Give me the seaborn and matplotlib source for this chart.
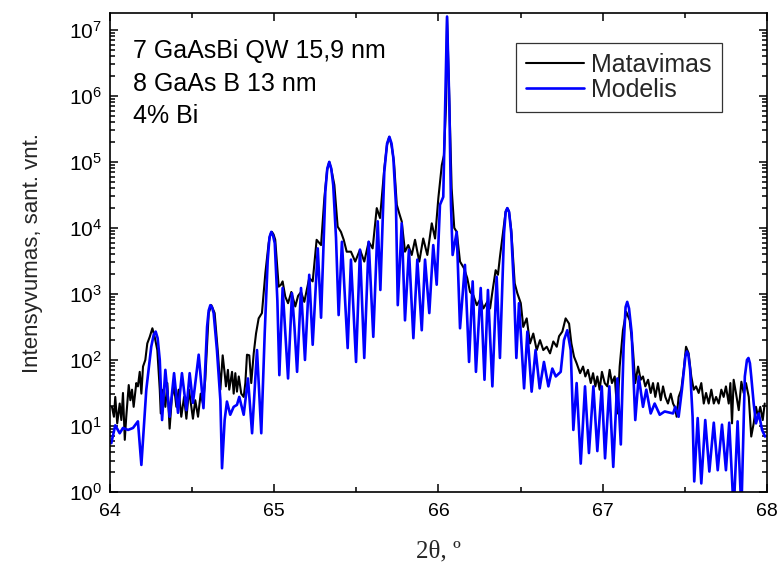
import matplotlib
matplotlib.use("Agg")
import matplotlib.pyplot as plt
import matplotlib.ticker as mticker
import numpy as np
import pandas as pd
import seaborn as sns

# ---- data (2theta in degrees, log10 of intensity) ----
meas_2theta = [
    64.012, 64.024, 64.032, 64.044, 64.059, 64.069, 64.079, 64.090, 64.099, 64.114,
    64.124, 64.134, 64.144, 64.160, 64.170, 64.181, 64.191, 64.201, 64.215, 64.227,
    64.242, 64.258, 64.272, 64.288, 64.303, 64.309, 64.323, 64.337, 64.349, 64.363,
    64.377, 64.390, 64.404, 64.418, 64.434, 64.451, 64.465, 64.481, 64.495, 64.505,
    64.519, 64.536, 64.552, 64.566, 64.580, 64.601, 64.617, 64.637, 64.658, 64.672,
    64.686, 64.698, 64.706, 64.718, 64.726, 64.743, 64.753, 64.763, 64.773, 64.784,
    64.799, 64.814, 64.824, 64.834, 64.848, 64.860, 64.875, 64.889, 64.905, 64.925,
    64.946, 64.966, 64.976, 64.986, 64.996, 65.006, 65.027, 65.041, 65.051, 65.067,
    65.084, 65.104, 65.128, 65.145, 65.163, 65.183, 65.213, 65.234, 65.258, 65.285,
    65.305, 65.322, 65.335, 65.348, 65.366, 65.386, 65.406, 65.423, 65.441, 65.467,
    65.493, 65.522, 65.548, 65.575, 65.599, 65.624, 65.644, 65.670, 65.686, 65.700,
    65.714, 65.729, 65.746, 65.761, 65.776, 65.796, 65.816, 65.837, 65.857, 65.883,
    65.907, 65.932, 65.959, 65.979, 65.999, 66.020, 66.033, 66.046, 66.052, 66.064,
    66.080, 66.096, 66.111, 66.131, 66.155, 66.175, 66.192, 66.212, 66.233, 66.257,
    66.273, 66.297, 66.314, 66.328, 66.348, 66.362, 66.374, 66.395, 66.409, 66.419,
    66.429, 66.443, 66.464, 66.480, 66.501, 66.516, 66.537, 66.557, 66.577, 66.598,
    66.618, 66.638, 66.659, 66.679, 66.699, 66.720, 66.734, 66.754, 66.774, 66.795,
    66.809, 66.825, 66.841, 66.862, 66.880, 66.894, 66.910, 66.927, 66.941, 66.955,
    66.967, 66.981, 66.995, 67.012, 67.028, 67.042, 67.056, 67.073, 67.089, 67.103,
    67.123, 67.143, 67.164, 67.184, 67.198, 67.215, 67.231, 67.245, 67.259, 67.276,
    67.292, 67.306, 67.320, 67.336, 67.353, 67.367, 67.381, 67.397, 67.414, 67.428,
    67.438, 67.450, 67.462, 67.478, 67.493, 67.507, 67.523, 67.539, 67.554, 67.568,
    67.584, 67.600, 67.615, 67.629, 67.645, 67.661, 67.676, 67.690, 67.706, 67.722,
    67.736, 67.750, 67.767, 67.777, 67.787, 67.797, 67.811, 67.828, 67.844, 67.858,
    67.872, 67.889, 67.904, 67.919, 67.933, 67.945, 67.959, 67.974, 67.986,
]
meas_log10 = [
    1.29, 1.14, 1.44, 1.04, 1.34, 1.09, 1.50, 0.79, 1.14, 1.62,
    1.39, 1.55, 1.29, 1.65, 1.60, 1.82, 1.49, 1.90, 2.00, 2.25,
    2.35, 2.48, 2.35, 2.15, 1.55, 1.19, 1.55, 1.29, 1.65, 0.96,
    1.44, 1.60, 1.29, 1.55, 1.14, 1.44, 1.11, 1.55, 1.29, 1.11,
    1.39, 1.14, 1.49, 1.34, 1.70, 2.71, 2.83, 2.71, 2.08, 1.55,
    2.07, 1.80, 1.60, 1.85, 1.55, 1.82, 1.49, 1.80, 1.52, 1.75,
    1.49, 1.44, 1.65, 2.08, 2.07, 1.65, 2.10, 2.40, 2.63, 2.71,
    3.32, 3.77, 3.90, 3.94, 3.90, 3.82, 3.11, 3.14, 3.19, 2.96,
    2.86, 3.03, 2.81, 2.97, 3.03, 2.88, 3.24, 3.19, 3.82, 3.74,
    4.45, 4.88, 5.00, 4.88, 4.65, 4.02, 3.94, 3.82, 3.64, 3.64,
    3.49, 3.67, 3.49, 3.79, 3.69, 4.30, 4.15, 4.90, 5.25, 5.38,
    5.25, 5.00, 4.35, 4.22, 4.10, 3.64, 3.74, 3.59, 3.82, 3.49,
    3.84, 3.59, 4.07, 3.84, 4.45, 4.95, 5.10, 5.86, 7.20, 6.12,
    4.60, 4.00, 3.94, 3.49, 3.39, 3.24, 3.03, 2.98, 2.83, 2.93,
    2.78, 2.88, 2.78, 3.03, 3.36, 3.29, 3.56, 3.97, 4.25, 4.30,
    4.25, 3.97, 3.16, 3.01, 2.86, 2.50, 2.63, 2.25, 2.40, 2.15,
    2.30, 2.15, 2.20, 2.10, 2.28, 2.20, 2.36, 2.43, 2.63, 2.55,
    2.25, 2.05, 1.95, 1.80, 1.90, 1.75, 1.85, 1.65, 1.80, 1.60,
    1.75, 1.55, 1.82, 1.65, 1.60, 1.85, 1.65, 1.75, 1.19, 1.90,
    2.45, 2.73, 2.60, 2.15, 1.65, 1.90, 1.70, 1.75, 1.60, 1.70,
    1.50, 1.65, 1.44, 1.65, 1.39, 1.60, 1.44, 1.34, 1.49, 1.34,
    1.29, 1.14, 1.44, 1.55, 1.85, 2.20, 2.10, 1.75, 1.55, 1.60,
    1.50, 1.65, 1.34, 1.50, 1.34, 1.55, 1.34, 1.44, 1.34, 1.55,
    1.44, 1.60, 1.34, 1.65, 1.04, 1.70, 1.50, 1.24, 1.67, 1.50,
    1.65, 1.44, 0.84, 1.04, 1.29, 1.14, 1.29, 1.09, 1.34,
]
model_2theta = [
    64.008, 64.032, 64.059, 64.079, 64.110, 64.140, 64.170, 64.191, 64.221, 64.251,
    64.266, 64.278, 64.290, 64.303, 64.317, 64.337, 64.363, 64.390, 64.414, 64.438,
    64.465, 64.485, 64.505, 64.540, 64.569, 64.591, 64.601, 64.611, 64.621, 64.631,
    64.651, 64.672, 64.682, 64.698, 64.712, 64.732, 64.753, 64.773, 64.787, 64.814,
    64.840, 64.865, 64.895, 64.921, 64.942, 64.960, 64.971, 64.982, 64.993, 65.003,
    65.019, 65.031, 65.051, 65.084, 65.108, 65.123, 65.139, 65.163, 65.187, 65.213,
    65.234, 65.265, 65.285, 65.311, 65.323, 65.335, 65.347, 65.359, 65.376, 65.392,
    65.412, 65.447, 65.467, 65.498, 65.522, 65.548, 65.575, 65.603, 65.630, 65.646,
    65.670, 65.687, 65.701, 65.714, 65.725, 65.741, 65.752, 65.776, 65.796, 65.820,
    65.847, 65.871, 65.898, 65.918, 65.944, 65.968, 65.989, 66.009, 66.029, 66.041,
    66.052, 66.066, 66.076, 66.086, 66.111, 66.131, 66.161, 66.186, 66.208, 66.228,
    66.257, 66.280, 66.301, 66.328, 66.354, 66.374, 66.399, 66.409, 66.419, 66.430,
    66.443, 66.460, 66.474, 66.490, 66.521, 66.541, 66.567, 66.591, 66.616, 66.642,
    66.669, 66.693, 66.714, 66.744, 66.764, 66.784, 66.805, 66.821, 66.841, 66.866,
    66.892, 66.916, 66.943, 66.967, 66.994, 67.014, 67.040, 67.064, 67.089, 67.110,
    67.127, 67.139, 67.149, 67.160, 67.176, 67.198, 67.219, 67.245, 67.265, 67.292,
    67.316, 67.347, 67.377, 67.428, 67.442, 67.462, 67.482, 67.503, 67.512, 67.521,
    67.532, 67.547, 67.557, 67.578, 67.600, 67.624, 67.649, 67.676, 67.700, 67.726,
    67.750, 67.770, 67.797, 67.821, 67.844, 67.865, 67.878, 67.887, 67.896, 67.904,
    67.919, 67.933, 67.950, 67.970, 67.988,
]
model_log10 = [
    0.74, 1.01, 0.89, 0.97, 0.94, 0.97, 1.07, 0.41, 1.55, 2.20,
    2.38, 2.43, 2.33, 2.00, 1.09, 1.85, 1.14, 1.80, 1.20, 1.80,
    1.24, 1.80, 1.35, 2.08, 1.27, 2.50, 2.75, 2.83, 2.80, 2.71,
    2.15, 1.39, 0.36, 1.09, 1.37, 1.17, 1.29, 1.32, 1.44, 1.17,
    1.72, 0.89, 2.15, 0.89, 2.41, 3.50, 3.86, 3.94, 3.88, 3.77,
    2.90, 1.77, 3.09, 1.72, 3.01, 2.50, 1.82, 3.09, 2.00, 3.29,
    2.23, 3.69, 2.64, 4.55, 4.90, 5.00, 4.90, 4.65, 3.85, 2.68,
    3.79, 2.18, 3.52, 1.97, 3.67, 2.03, 3.79, 2.35, 4.10, 3.06,
    4.85, 5.28, 5.38, 5.28, 5.06, 4.35, 2.83, 4.07, 2.60, 3.67,
    2.33, 3.52, 2.45, 3.52, 2.71, 3.74, 3.14, 4.35, 4.47, 5.86,
    7.20, 5.86, 4.35, 3.59, 3.94, 2.48, 3.44, 1.97, 3.19, 1.82,
    3.09, 1.70, 3.06, 1.60, 3.26, 2.03, 3.92, 4.24, 4.30, 4.24,
    3.92, 3.06, 2.03, 2.86, 1.57, 2.43, 1.52, 2.15, 1.57, 1.97,
    1.60, 1.87, 1.75, 1.82, 2.30, 2.45, 2.15, 0.94, 1.65, 0.43,
    1.60, 0.59, 1.60, 0.62, 1.60, 0.51, 1.60, 0.38, 1.72, 0.72,
    2.20, 2.80, 2.88, 2.78, 2.41, 1.09, 1.75, 1.29, 1.55, 1.19,
    1.34, 1.17, 1.22, 1.19, 1.29, 1.14, 1.55, 2.05, 2.13, 2.08,
    1.85, 1.14, 0.16, 1.12, 0.13, 1.09, 0.31, 1.05, 0.33, 1.02,
    0.33, 1.05, -0.30, 1.07, -0.30, 1.75, 2.00, 2.03, 1.95, 1.75,
    1.34, 1.04, 1.19, 0.94, 0.84,
]
series_labels = ["Matavimas", "Modelis"]
note_lines = ["7 GaAsBi QW 15,9 nm", "8 GaAs B 13 nm", "4% Bi"]
x_ticks = [64, 65, 66, 67, 68]

meas = pd.DataFrame({"two_theta": meas_2theta,
                     "intensity": np.power(10.0, meas_log10)})
model = pd.DataFrame({"two_theta": model_2theta,
                      "intensity": np.power(10.0, model_log10)})

sns.set_theme(style="ticks")
plt.rcParams["font.family"] = ["Liberation Sans", "DejaVu Sans"]
plt.rcParams["mathtext.fontset"] = "custom"
plt.rcParams["mathtext.rm"] = "Liberation Sans"
plt.rcParams["mathtext.it"] = "Liberation Sans:italic"
plt.rcParams["mathtext.default"] = "regular"

fig = plt.figure(figsize=(7.77, 5.70), dpi=100)
ax = fig.add_axes([0.14157, 0.13684, 0.84556, 0.84035])

sns.lineplot(data=meas, x="two_theta", y="intensity", ax=ax, color="black",
             linewidth=1.5, sort=False, estimator=None, label=series_labels[0])
sns.lineplot(data=model, x="two_theta", y="intensity", ax=ax, color="#0000ff",
             linewidth=1.9, sort=False, estimator=None, label=series_labels[1])

ax.set_yscale("log")
ax.set_xlim(64, 68)
ax.set_ylim(1, 1.8e7)
ax.set_xticks(x_ticks)
ax.set_xticklabels([str(t) for t in x_ticks])
ax.xaxis.set_minor_locator(mticker.MultipleLocator(0.5))
ax.yaxis.set_major_locator(mticker.LogLocator(base=10, numticks=20))
ax.yaxis.set_minor_locator(mticker.LogLocator(base=10, subs=np.arange(2, 10), numticks=20))
ax.yaxis.set_minor_formatter(mticker.NullFormatter())

ax.tick_params(which="both", direction="in", top=True, right=True, width=1.1,
               colors="black", labelsize=14)
ax.tick_params(which="major", length=6)
ax.tick_params(which="minor", length=3.5)
ax.tick_params(axis="x", pad=8)
ax.tick_params(axis="y", pad=6, labelsize=15)
for sp in ax.spines.values():
    sp.set_linewidth(1.2)
    sp.set_color("black")

ax.set_ylabel("Intensyvumas, sant. vnt.", fontsize=16)
ax.yaxis.set_label_coords(-0.102, 0.5)
ax.set_xlabel("2\u03b8, \u00ba", fontsize=18, family=["Liberation Serif", "DejaVu Serif"])
ax.xaxis.set_label_coords(0.5, -0.102)

for i, line in enumerate(note_lines):
    ax.text(0.035, 0.906 - i * 0.068, line, transform=ax.transAxes,
            fontsize=18, va="baseline", ha="left", color="black")

leg = ax.legend(loc="upper right", bbox_to_anchor=(0.9315, 0.9374), fontsize=18,
                frameon=True, fancybox=False, edgecolor="#333333", framealpha=1,
                borderaxespad=0, borderpad=0.4, labelspacing=0.05,
                handlelength=2.3, handletextpad=0.3)
leg.get_frame().set_linewidth(0.9)

fig.savefig("out.png", dpi=100)
